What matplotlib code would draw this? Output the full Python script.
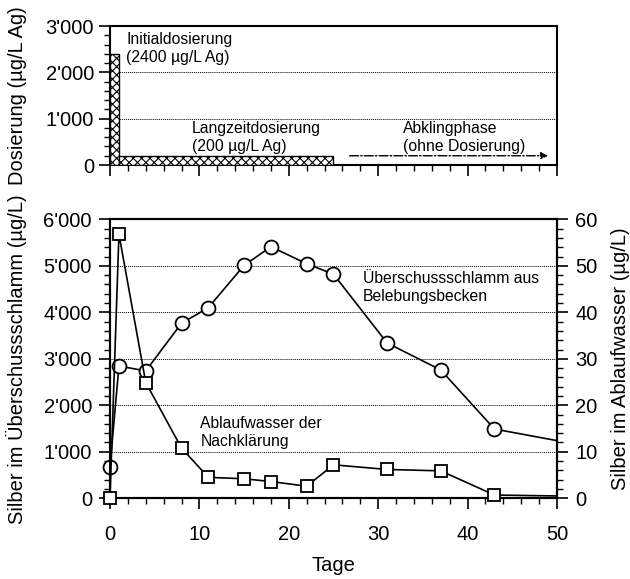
import matplotlib.pyplot as plt
import numpy as np
from matplotlib.ticker import FuncFormatter, MultipleLocator

plt.rcParams['font.family'] = ['Liberation Sans', 'DejaVu Sans']
plt.rcParams['hatch.linewidth'] = 0.8

# Dosierung (oben)
dos_start = [0, 1]
dos_width = [1, 24]
dos_value = [2400, 200]

# Messwerte (unten)
tage = [0, 1, 4, 8, 11, 15, 18, 22, 25, 31, 37, 43, 50]
schlamm = [680, 2845, 2740, 3765, 4100, 5010, 5410, 5045, 4820, 3340, 2760, 1490, 1240]
ablauf = [0, 56.8, 24.9, 10.8, 4.5, 4.2, 3.6, 2.6, 7.2, 6.2, 5.9, 0.7, 0.5]


def tausend(v, pos):
    v = int(round(v))
    if v >= 1000:
        return "%d'%03d" % (v // 1000, v % 1000)
    return str(v)


fs = 14.5
afs = 11.3
fig = plt.figure(figsize=(6.3, 5.79), dpi=100)
ax1 = fig.add_axes([0.1746, 0.715, 0.7095, 0.240])
ax2 = fig.add_axes([0.1746, 0.1394, 0.7095, 0.4818])
ax3 = ax2.twinx()

for ax in (ax1, ax2, ax3):
    for s in ax.spines.values():
        s.set_linewidth(1.5)

# --- oben ---
ax1.bar(dos_start, dos_value, width=dos_width, align='edge', facecolor='white',
        edgecolor='black', hatch='xxxx', linewidth=1.0, zorder=3)
ax1.set_xlim(0, 50)
ax1.set_ylim(0, 3000)
ax1.set_yticks([0, 1000, 2000, 3000])
ax1.yaxis.set_minor_locator(MultipleLocator(200))
ax1.yaxis.set_major_formatter(FuncFormatter(tausend))
ax1.xaxis.set_major_locator(MultipleLocator(10))
ax1.xaxis.set_minor_locator(MultipleLocator(2))
ax1.set_xticklabels([])
ax1.tick_params(axis='both', which='major', direction='out', length=8, width=1.2, labelsize=fs)
ax1.tick_params(axis='both', which='minor', direction='out', length=4.5, width=1.0)
for yv in [1000, 2000]:
    ax1.axhline(yv, color='black', linestyle=(0, (1, 1)), linewidth=0.7, zorder=1)
ax1.set_ylabel('Dosierung (µg/L Ag)', fontsize=fs)
ax1.yaxis.set_label_coords(-0.185, 0.5)
ax1.text(1.8, 2880, 'Initialdosierung\n(2400 µg/L Ag)', fontsize=afs, va='top', linespacing=1.25)
ax1.text(9.2, 960, 'Langzeitdosierung\n(200 µg/L Ag)', fontsize=afs, va='top', linespacing=1.25)
ax1.text(32.8, 960, 'Abklingphase\n(ohne Dosierung)', fontsize=afs, va='top', linespacing=1.25)
ax1.annotate('', xy=(49.3, 200), xytext=(26.5, 200),
             arrowprops=dict(arrowstyle='-|>', linestyle='-.', color='black',
                             linewidth=1.0, mutation_scale=10))

# --- unten ---
for yv in [1000, 2000, 3000, 4000, 5000]:
    ax2.axhline(yv, color='black', linestyle=(0, (1, 1)), linewidth=0.7, zorder=1)
ax2.plot(tage, schlamm, color='black', linewidth=1.2, marker='o', markersize=10,
         markerfacecolor='white', markeredgewidth=1.3, markevery=list(range(len(tage) - 1)),
         clip_on=False, zorder=4)
ax3.plot(tage, ablauf, color='black', linewidth=1.2, marker='s', markersize=9,
         markerfacecolor='white', markeredgewidth=1.3, markevery=list(range(len(tage) - 1)),
         clip_on=False, zorder=4)

ax2.set_xlim(0, 50)
ax2.set_ylim(0, 6000)
ax3.set_ylim(0, 60)
ax2.set_yticks(np.arange(0, 6001, 1000))
ax2.yaxis.set_minor_locator(MultipleLocator(200))
ax2.yaxis.set_major_formatter(FuncFormatter(tausend))
ax3.set_yticks(np.arange(0, 61, 10))
ax3.yaxis.set_minor_locator(MultipleLocator(2))
ax2.xaxis.set_major_locator(MultipleLocator(10))
ax2.xaxis.set_minor_locator(MultipleLocator(2))
for ax in (ax2, ax3):
    ax.tick_params(axis='both', which='major', direction='out', length=8, width=1.2,
                   labelsize=fs, pad=5)
    ax.tick_params(axis='both', which='minor', direction='out', length=4.5, width=1.0)
ax2.tick_params(axis='x', pad=11)

ax2.set_xlabel('Tage', fontsize=fs, labelpad=9)
ax2.set_ylabel('Silber im Überschussschlamm (µg/L)', fontsize=fs)
ax2.yaxis.set_label_coords(-0.185, 0.5)
ax3.set_ylabel('Silber im Ablaufwasser (µg/L)', fontsize=fs)
ax3.yaxis.set_label_coords(1.12, 0.5)

ax2.text(28.3, 4880, 'Überschussschlamm aus\nBelebungsbecken', fontsize=afs, va='top', linespacing=1.25)
ax2.text(10.1, 1760, 'Ablaufwasser der\nNachklärung', fontsize=afs, va='top', linespacing=1.25)

fig.savefig('out.png', dpi=100)
